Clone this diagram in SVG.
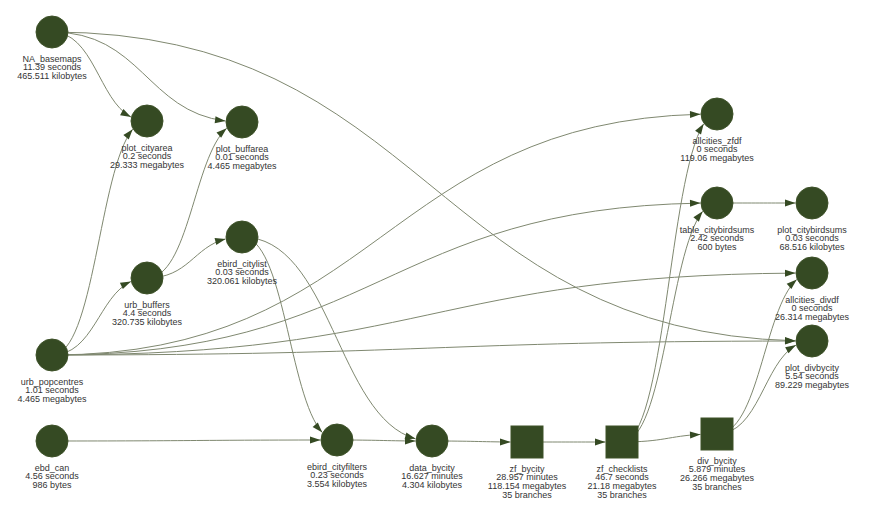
<svg xmlns="http://www.w3.org/2000/svg" width="872" height="526" viewBox="0 0 872 526">
  <style>
    .bg { fill: #ffffff; }
    .edge { fill: none; stroke: #7f8870; stroke-width: 1; marker-end: url(#arrow); }
    .node { fill: #354a23; stroke: #3e5229; stroke-width: 1; }
    .lbl { font-family: "Liberation Sans", Arial, sans-serif; font-size: 9px; fill: #343434; text-anchor: middle; }
  </style>
  <defs>
    <marker id="arrow" markerUnits="userSpaceOnUse" markerWidth="11" markerHeight="8" refX="10.5" refY="3.5" orient="auto" overflow="visible">
      <path d="M0,0 L10.5,3.5 L0,7 Z" fill="#354a23"/>
    </marker>
  </defs>
  <rect class="bg" x="0" y="0" width="872" height="526"/>

  <!-- dependency edges: cubic curves from source centre, ending at target border -->
  <g id="edges">
    <path class="edge" d="M52,32 C93.5,32 98.7,99.8 131.0,117.1"/>
    <path class="edge" d="M52,32 C141.2,32 146.6,111.3 225.5,121.0"/>
    <path class="edge" d="M52,32 C426.4,32 431.9,332.0 795.5,340.8"/>
    <path class="edge" d="M52,355 C94.2,355 98.9,170.6 132.7,129.2"/>
    <path class="edge" d="M52,355 C93.4,355 98.7,296.5 130.9,281.5"/>
    <path class="edge" d="M147,278 C188.8,278 193.8,157.3 226.7,128.3"/>
    <path class="edge" d="M147,278 C188.3,278 193.7,247.0 225.6,238.9"/>
    <path class="edge" d="M242,237 C284.0,237 288.9,395.8 322.3,432.5"/>
    <path class="edge" d="M242,237 C331.2,237 336.7,416.9 415.6,438.8"/>
    <path class="edge" d="M52,355 C378.9,355 384.4,122.0 700.5,114.2"/>
    <path class="edge" d="M52,355 C378.9,355 384.4,208.1 700.5,203.1"/>
    <path class="edge" d="M52,355 C426.4,355 431.9,275.4 795.5,273.1"/>
    <path class="edge" d="M52,355 C426.4,355 431.9,341.4 795.5,341.0"/>
    <path class="edge" d="M52,441 C188.8,441 194.3,440.1 320.5,440.0"/>
    <path class="edge" d="M337,440 C378.3,440 383.7,440.8 415.5,441.0"/>
    <path class="edge" d="M432,441 C473.3,441 478.7,441.8 510.5,442.0"/>
    <path class="edge" d="M527,442 C568.3,442 573.7,442 605.5,442"/>
    <path class="edge" d="M622,442 C663.3,442 668.7,436.0 700.5,434.4"/>
    <path class="edge" d="M622,442 C664.6,442 669.0,178.3 703.7,123.8"/>
    <path class="edge" d="M622,442 C664.2,442 668.9,253.4 702.7,211.3"/>
    <path class="edge" d="M717,203 C758.3,203 763.7,203 795.5,203"/>
    <path class="edge" d="M717,434 C758.8,434 763.8,309.3 796.8,279.4"/>
    <path class="edge" d="M717,434 C758.5,434 763.7,363.1 796.0,345.1"/>
  </g>

  <g id="NA_basemaps">
    <circle class="node" cx="52" cy="32" r="16"/>
    <text class="lbl"><tspan x="52" y="61.8">NA_basemaps</tspan><tspan x="52" y="70.4">11.39 seconds</tspan><tspan x="52" y="79">465.511 kilobytes</tspan></text>
  </g>
  <g id="plot_cityarea">
    <circle class="node" cx="147" cy="121" r="16"/>
    <text class="lbl"><tspan x="147" y="150.8">plot_cityarea</tspan><tspan x="147" y="159.4">0.2 seconds</tspan><tspan x="147" y="168">29.333 megabytes</tspan></text>
  </g>
  <g id="plot_buffarea">
    <circle class="node" cx="242" cy="122" r="16"/>
    <text class="lbl"><tspan x="242" y="151.8">plot_buffarea</tspan><tspan x="242" y="160.4">0.01 seconds</tspan><tspan x="242" y="169">4.465 megabytes</tspan></text>
  </g>
  <g id="ebird_citylist">
    <circle class="node" cx="242" cy="237" r="16"/>
    <text class="lbl"><tspan x="242" y="266.8">ebird_citylist</tspan><tspan x="242" y="275.4">0.03 seconds</tspan><tspan x="242" y="284">320.061 kilobytes</tspan></text>
  </g>
  <g id="urb_buffers">
    <circle class="node" cx="147" cy="278" r="16"/>
    <text class="lbl"><tspan x="147" y="307.8">urb_buffers</tspan><tspan x="147" y="316.4">4.4 seconds</tspan><tspan x="147" y="325">320.735 kilobytes</tspan></text>
  </g>
  <g id="urb_popcentres">
    <circle class="node" cx="52" cy="355" r="16"/>
    <text class="lbl"><tspan x="52" y="384.8">urb_popcentres</tspan><tspan x="52" y="393.4">1.01 seconds</tspan><tspan x="52" y="402">4.465 megabytes</tspan></text>
  </g>
  <g id="ebd_can">
    <circle class="node" cx="52" cy="441" r="16"/>
    <text class="lbl"><tspan x="52" y="470.8">ebd_can</tspan><tspan x="52" y="479.4">4.56 seconds</tspan><tspan x="52" y="488">986 bytes</tspan></text>
  </g>
  <g id="ebird_cityfilters">
    <circle class="node" cx="337" cy="440" r="16"/>
    <text class="lbl"><tspan x="337" y="469.8">ebird_cityfilters</tspan><tspan x="337" y="478.4">0.23 seconds</tspan><tspan x="337" y="487">3.554 kilobytes</tspan></text>
  </g>
  <g id="data_bycity">
    <circle class="node" cx="432" cy="441" r="16"/>
    <text class="lbl"><tspan x="432" y="470.8">data_bycity</tspan><tspan x="432" y="479.4">16.627 minutes</tspan><tspan x="432" y="488">4.304 kilobytes</tspan></text>
  </g>
  <g id="zf_bycity">
    <rect class="node" x="511" y="426" width="32" height="32"/>
    <text class="lbl"><tspan x="527" y="471.8">zf_bycity</tspan><tspan x="527" y="480.4">28.957 minutes</tspan><tspan x="527" y="489">118.154 megabytes</tspan><tspan x="527" y="497.6">35 branches</tspan></text>
  </g>
  <g id="zf_checklists">
    <rect class="node" x="606" y="426" width="32" height="32"/>
    <text class="lbl"><tspan x="622" y="471.8">zf_checklists</tspan><tspan x="622" y="480.4">46.7 seconds</tspan><tspan x="622" y="489">21.18 megabytes</tspan><tspan x="622" y="497.6">35 branches</tspan></text>
  </g>
  <g id="div_bycity">
    <rect class="node" x="701" y="418" width="32" height="32"/>
    <text class="lbl"><tspan x="717" y="463.8">div_bycity</tspan><tspan x="717" y="472.4">5.879 minutes</tspan><tspan x="717" y="481">26.266 megabytes</tspan><tspan x="717" y="489.6">35 branches</tspan></text>
  </g>
  <g id="allcities_zfdf">
    <circle class="node" cx="717" cy="114" r="16"/>
    <text class="lbl"><tspan x="717" y="143.8">allcities_zfdf</tspan><tspan x="717" y="152.4">0 seconds</tspan><tspan x="717" y="161">119.06 megabytes</tspan></text>
  </g>
  <g id="table_citybirdsums">
    <circle class="node" cx="717" cy="203" r="16"/>
    <text class="lbl"><tspan x="717" y="232.8">table_citybirdsums</tspan><tspan x="717" y="241.4">2.42 seconds</tspan><tspan x="717" y="250">600 bytes</tspan></text>
  </g>
  <g id="plot_citybirdsums">
    <circle class="node" cx="812" cy="203" r="16"/>
    <text class="lbl"><tspan x="812" y="232.8">plot_citybirdsums</tspan><tspan x="812" y="241.4">0.03 seconds</tspan><tspan x="812" y="250">68.516 kilobytes</tspan></text>
  </g>
  <g id="allcities_divdf">
    <circle class="node" cx="812" cy="273" r="16"/>
    <text class="lbl"><tspan x="812" y="302.8">allcities_divdf</tspan><tspan x="812" y="311.4">0 seconds</tspan><tspan x="812" y="320">26.314 megabytes</tspan></text>
  </g>
  <g id="plot_divbycity">
    <circle class="node" cx="812" cy="341" r="16"/>
    <text class="lbl"><tspan x="812" y="370.8">plot_divbycity</tspan><tspan x="812" y="379.4">5.54 seconds</tspan><tspan x="812" y="388">89.229 megabytes</tspan></text>
  </g>
</svg>
